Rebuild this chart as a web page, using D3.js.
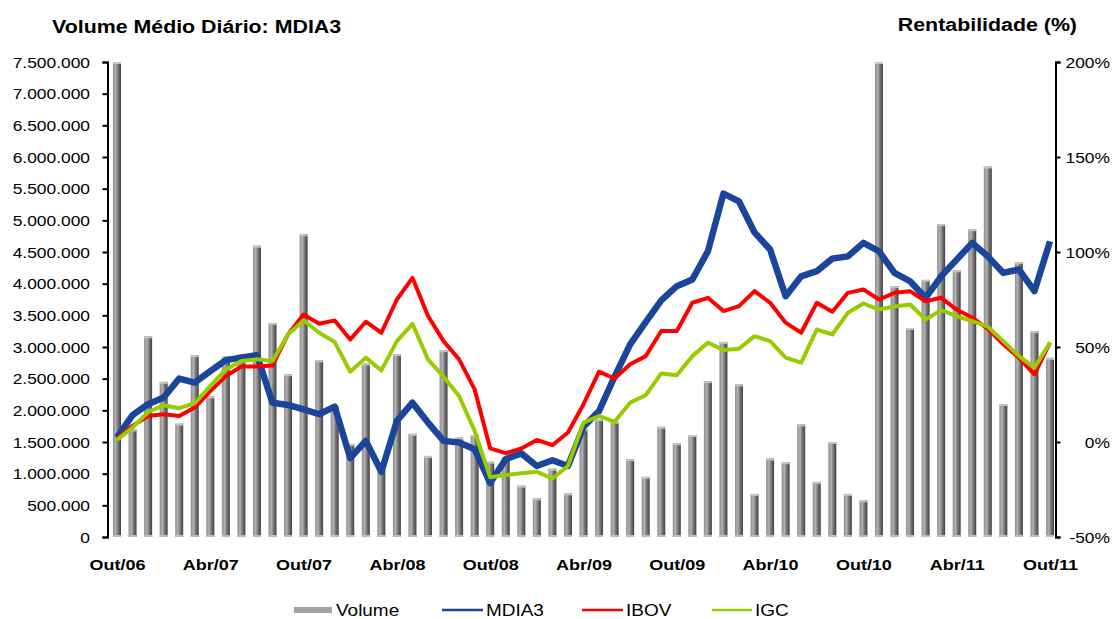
<!DOCTYPE html>
<html>
<head>
<meta charset="utf-8">
<script src="https://cdn.jsdelivr.net/npm/d3@7"></script>
<style>
  body { margin: 0; background: #fff; }
  svg { display: block; font-family: Arial, "Liberation Sans", sans-serif; }
</style>
</head>
<body>
<div id="chart"></div>
<script>
var months = ["Out/06","Nov/06","Dez/06","Jan/07","Fev/07","Mar/07","Abr/07","Mai/07","Jun/07","Jul/07","Ago/07","Set/07",
  "Out/07","Nov/07","Dez/07","Jan/08","Fev/08","Mar/08","Abr/08","Mai/08","Jun/08","Jul/08","Ago/08","Set/08",
  "Out/08","Nov/08","Dez/08","Jan/09","Fev/09","Mar/09","Abr/09","Mai/09","Jun/09","Jul/09","Ago/09","Set/09",
  "Out/09","Nov/09","Dez/09","Jan/10","Fev/10","Mar/10","Abr/10","Mai/10","Jun/10","Jul/10","Ago/10","Set/10",
  "Out/10","Nov/10","Dez/10","Jan/11","Fev/11","Mar/11","Abr/11","Mai/11","Jun/11","Jul/11","Ago/11","Set/11","Out/11"];

var tickMonths = ["Out/06","Abr/07","Out/07","Abr/08","Out/08","Abr/09","Out/09","Abr/10","Out/10","Abr/11","Out/11"];

var volume = [7500000,1700000,3170000,2450000,1790000,2870000,2220000,2850000,2890000,4600000,3380000,2570000,
  4780000,2790000,2070000,1470000,2740000,1070000,2890000,1630000,1280000,2950000,1570000,1610000,
  1190000,1260000,810000,610000,1080000,690000,1700000,1860000,1820000,1230000,950000,1740000,
  1480000,1610000,2460000,3080000,2410000,680000,1240000,1180000,1780000,870000,1500000,680000,
  580000,7500000,3960000,3300000,4060000,4940000,4210000,4860000,5850000,2100000,4340000,3250000,2830000];

var mdia3 = [2.4,14.1,19.9,23.4,33.4,31.3,37.3,43.1,44.4,45.7,20.7,19.5,
  17.2,14.6,18.6,-8.5,0.6,-15.7,11.1,20.7,10.2,0.6,-0.3,-3.8,
  -21.6,-9.0,-6.0,-12.6,-9.6,-12.6,8.0,16.3,34.4,51.4,63.1,74.5,
  82.0,85.5,100.4,130.7,126.6,110.3,101.3,76.7,87.2,89.9,96.5,97.7,
  104.8,100.4,89.0,84.6,75.9,87.2,96.0,104.8,97.7,89.0,90.8,79.4,105.6];

var ibov = [1.8,8.5,13.7,14.6,13.7,18.1,26.8,34.7,39.7,39.7,40.3,56.6,
  67.1,62.2,64.0,54.0,63.3,57.5,75.0,86.4,66.3,53.1,43.5,27.7,
  -3.4,-5.9,-3.4,1.1,-1.7,5.0,19.9,37.0,33.4,40.9,45.2,58.4,
  58.4,73.3,75.9,68.9,71.5,79.4,73.3,62.8,57.5,73.3,68.5,78.5,
  80.3,75.0,78.5,79.4,74.1,75.9,69.7,65.4,59.6,51.4,44.4,35.6,52.3];

var igc = [1.1,7.6,15.8,19.3,17.8,20.4,29.5,38.2,42.6,43.5,42.6,56.6,
  64.1,57.5,52.6,37.0,44.4,37.7,53.1,62.2,43.5,34.4,24.2,5.8,
  -18.6,-17.4,-16.5,-15.7,-19.2,-12.6,10.2,13.7,10.6,20.7,24.6,36.1,
  35.1,45.2,52.3,48.4,49.1,55.7,53.1,44.4,41.8,59.2,56.6,68.0,
  72.9,69.7,71.3,72.4,64.5,69.4,66.2,63.6,60.7,53.1,45.2,39.1,52.3];

var volTicks = [0,500000,1000000,1500000,2000000,2500000,3000000,3500000,4000000,4500000,5000000,5500000,6000000,6500000,7000000,7500000];
var pctTicks = [-50,0,50,100,150,200];

var width = 1119, height = 619;
var plotLeft = 107.5, plotRight = 1055.5, plotTop = 62, plotBottom = 537;
var sx = 1.2; // text looks horizontally stretched in the original

var svg = d3.select("#chart").append("svg")
  .attr("width", width).attr("height", height);

var defs = svg.append("defs");
var grad = defs.append("linearGradient").attr("id", "barGrad")
  .attr("x1", "0").attr("x2", "1").attr("y1", "0").attr("y2", "0");
grad.append("stop").attr("offset", "0%").attr("stop-color", "#8e8e8e");
grad.append("stop").attr("offset", "35%").attr("stop-color", "#b2b2b2");
grad.append("stop").attr("offset", "60%").attr("stop-color", "#7c7c7c");
grad.append("stop").attr("offset", "100%").attr("stop-color", "#404040");

var x = d3.scalePoint().domain(months).range([117, 1050]);
var yVol = d3.scaleLinear().domain([0, 7500000]).range([plotBottom, plotTop]).clamp(true);
var yPct = d3.scaleLinear().domain([-50, 200]).range([plotBottom, plotTop]);

var ptFormat = d3.formatLocale({ decimal: ",", thousands: ".", grouping: [3], currency: ["R$", ""] }).format(",d");

// bars
var barW = 8;
var bars = svg.append("g");
bars.selectAll("rect.bar")
  .data(volume)
  .enter().append("rect")
    .attr("class", "bar")
    .attr("x", function(d, i) { return x(months[i]) - barW / 2; })
    .attr("y", function(d) { return yVol(d); })
    .attr("width", barW)
    .attr("height", function(d) { return plotBottom - yVol(d); })
    .attr("fill", "url(#barGrad)");
bars.selectAll("rect.cap")
  .data(volume)
  .enter().append("rect")
    .attr("class", "cap")
    .attr("x", function(d, i) { return x(months[i]) - barW / 2; })
    .attr("y", function(d) { return yVol(d); })
    .attr("width", barW)
    .attr("height", 2)
    .attr("fill", "#c4c4c4");
bars.selectAll("rect.base")
  .data(volume)
  .enter().append("rect")
    .attr("class", "base")
    .attr("x", function(d, i) { return x(months[i]) - barW / 2; })
    .attr("y", plotBottom - 2)
    .attr("width", barW)
    .attr("height", 2)
    .attr("fill", "#bdbdbd");

// lines
var line = d3.line()
  .x(function(d, i) { return x(months[i]); })
  .y(function(d) { return yPct(d); });

var series = [
  { name: "MDIA3", values: mdia3, color: "#1b4598", w: 6.5 },
  { name: "IBOV", values: ibov, color: "#ff0000", w: 4 },
  { name: "IGC", values: igc, color: "#99cc00", w: 4 }
];

series.forEach(function(s) {
  svg.append("path")
    .datum(s.values)
    .attr("fill", "none")
    .attr("stroke", s.color)
    .attr("stroke-width", s.w)
    .attr("stroke-linejoin", "round")
    .attr("d", line);
});

// axes
var yAxisL = svg.append("g")
  .attr("transform", "translate(" + plotLeft + ",0)")
  .call(d3.axisLeft(yVol).tickValues(volTicks).tickSize(5).tickFormat(ptFormat));
yAxisL.selectAll("text")
  .attr("x", -17.5 / sx)
  .attr("dy", "0.36em")
  .attr("transform", "scale(" + sx + ",1)")
  .style("font-size", "14.5px").attr("fill", "#000");

var yAxisR = svg.append("g")
  .attr("transform", "translate(" + plotRight + ",0)")
  .call(d3.axisRight(yPct).tickValues(pctTicks).tickSize(5).tickFormat(function(d) { return d + "%"; }));
yAxisR.selectAll("text")
  .attr("x", 54.5 / sx)
  .attr("dy", "0.36em")
  .attr("text-anchor", "end")
  .attr("transform", "scale(" + sx + ",1)")
  .style("font-size", "14.5px").attr("fill", "#000");

[yAxisL, yAxisR].forEach(function(a) {
  a.select(".domain").attr("stroke", "#000").attr("stroke-width", 2);
  a.selectAll(".tick line").attr("stroke", "#000").attr("stroke-width", 2);
});

var xAxis = svg.append("g")
  .attr("transform", "translate(0," + plotBottom + ")")
  .call(d3.axisBottom(x).tickValues(tickMonths).tickSize(0).tickPadding(22));
xAxis.select(".domain").remove();
xAxis.selectAll("text")
  .attr("transform", "scale(" + sx + ",1)")
  .style("font-size", "15px").style("font-weight", "bold").attr("fill", "#000");

// titles
function label(px, py, txt, size, weight, anchor) {
  svg.append("text")
    .attr("transform", "translate(" + px + "," + py + ") scale(" + sx + ",1)")
    .attr("text-anchor", anchor || "start")
    .style("font-size", size + "px")
    .style("font-weight", weight)
    .text(txt);
}
label(52, 33, "Volume Médio Diário: MDIA3", 17.8, "bold");
label(1077, 31, "Rentabilidade (%)", 17.8, "bold", "end");

// legend
var lg = svg.append("g");
lg.append("rect").attr("x", 294).attr("y", 607).attr("width", 38).attr("height", 6).attr("fill", "#a2a2a2");
label(336, 616, "Volume", 15.8, "normal");
var legendLines = [
  { x1: 442, x2: 483, tx: 486, name: "MDIA3", color: "#1b4598" },
  { x1: 582, x2: 623, tx: 626, name: "IBOV", color: "#ff0000" },
  { x1: 712, x2: 752, tx: 755, name: "IGC", color: "#99cc00" }
];
legendLines.forEach(function(d) {
  lg.append("line").attr("x1", d.x1).attr("x2", d.x2).attr("y1", 610).attr("y2", 610)
    .attr("stroke", d.color).attr("stroke-width", 2.5);
  label(d.tx, 616, d.name, 15.8, "normal");
});
</script>
</body>
</html>
